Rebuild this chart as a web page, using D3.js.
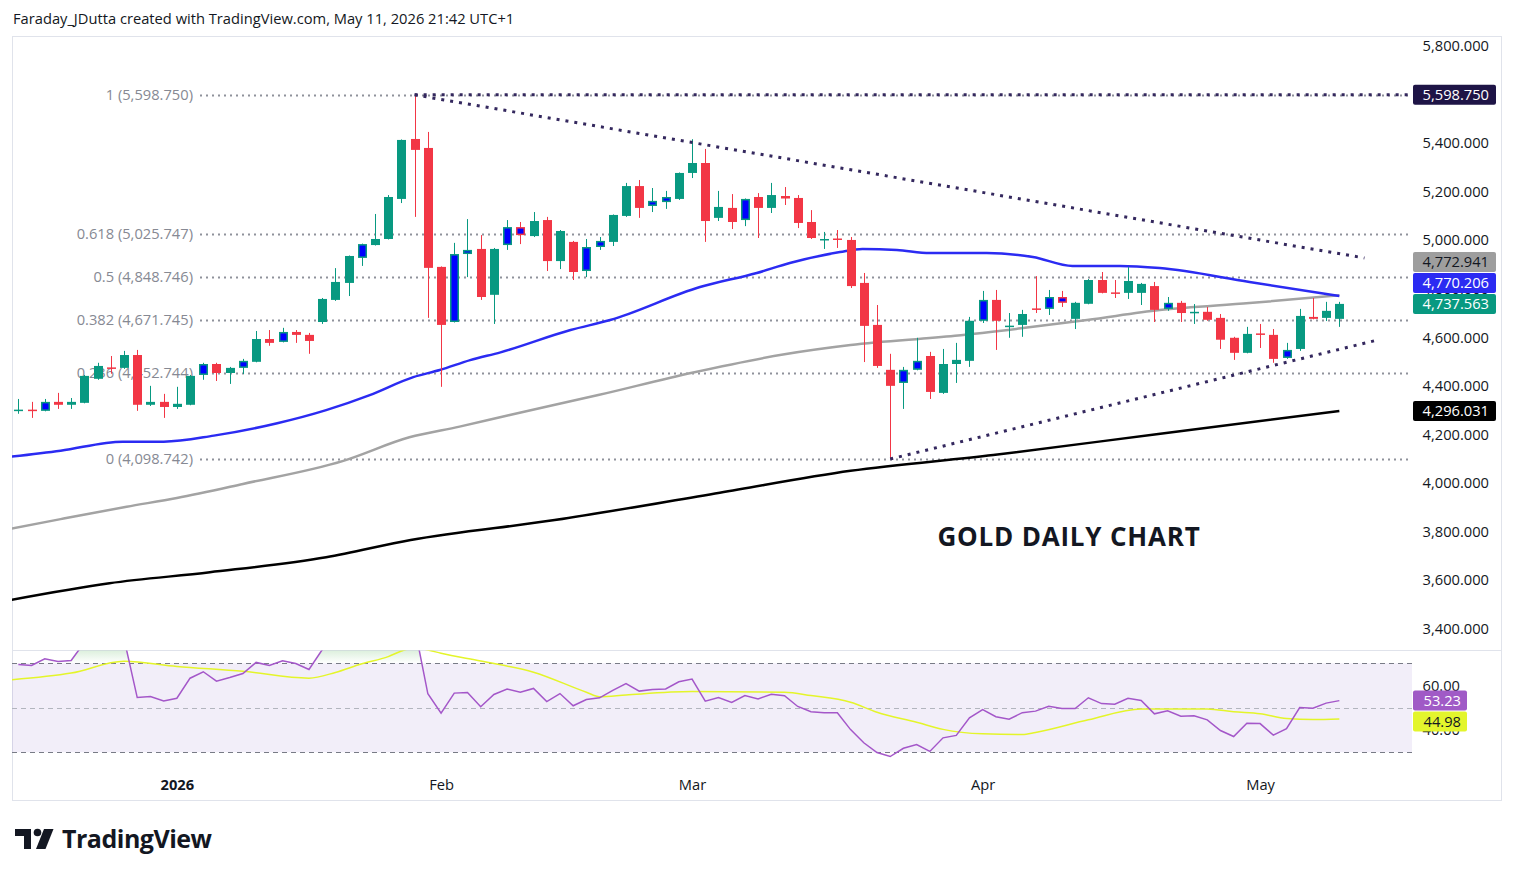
<!DOCTYPE html>
<html>
<head>
<meta charset="utf-8">
<script src="https://cdn.jsdelivr.net/npm/d3@7"></script>
<style>
  body { margin: 0; background: #fff; }
</style>
</head>
<body>
<svg id="chart" width="1515" height="877" font-family="'Open Sans', sans-serif"></svg>
<script>
// ---- data (bar index 0 = mid Dec 2025, 100 = May 11 2026) ----
var barOpen  = [4300,4302,4297,4334,4322,4330,4429,4476,4474,4527,4322,4334,4313,4322,4445,4490,4453,4474,4499,4593,
                4581,4622,4610,4663,4754,4824,4927,4980,5005,5170,5417,5380,4890,4663,4943,4964,4775,4980,5054,5017,
                5083,4914,4993,4873,4972,4993,5100,5223,5141,5157,5170,5277,5318,5092,5133,5083,5178,5133,5182,5174,
                5075,5003,5007,5001,4824,4651,4466,4412,4466,4523,4371,4490,4503,4668,4754,4645,4651,4719,4717,4766,
                4676,4738,4836,4785,4783,4783,4811,4717,4742,4703,4705,4680,4598,4536,4616,4610,4515,4552,4684,4680,4676];
var barHigh  = [4346,4334,4346,4371,4350,4445,4495,4523,4544,4548,4400,4367,4396,4445,4495,4495,4478,4511,4626,4630,
                4639,4630,4618,4762,4885,4937,4986,5108,5186,5415,5598.75,5446,4892,4989,5087,5021,4968,5083,5075,5116,
                5096,5042,4997,5005,5013,5106,5236,5248,5215,5203,5279,5416,5376,5203,5190,5172,5194,5236,5219,5186,
                5124,5034,5042,5013,4865,4733,4532,4478,4598,4540,4552,4577,4684,4791,4795,4700,4713,4852,4795,4791,
                4746,4840,4869,4836,4889,4824,4828,4766,4750,4737,4725,4696,4602,4643,4655,4634,4577,4717,4762,4746,4746];
var barLow   = [4285,4268,4295,4305,4305,4328,4425,4450,4470,4297,4317,4268,4305,4320,4425,4420,4408,4449,4497,4565,
                4579,4577,4532,4655,4750,4770,4894,4978,5003,5153,5096,4680,4396,4661,4848,4754,4655,4960,4984,5013,
                4873,4881,4836,4848,4960,4976,5096,5092,5116,5129,5166,5256,4993,5079,5046,5058,5009,5112,5145,5050,
                5005,4964,4968,4803,4498,4474,4098.742,4305,4464,4346,4367,4412,4478,4659,4548,4598,4602,4700,4692,4725,
                4634,4736,4781,4762,4758,4733,4663,4709,4663,4655,4668,4552,4507,4534,4556,4495,4511,4544,4674,4667,4643];
var barClose = [4302,4300,4334,4322,4334,4441,4482,4474,4527,4322,4334,4313,4326,4441,4490,4453,4474,4503,4593,4577,
                4622,4610,4585,4758,4828,4935,4984,5005,5178,5413,5372,4886,4651,4943,4960,4766,4964,5054,5021,5079,
                4914,5038,4869,4972,4997,5104,5223,5133,5162,5178,5277,5318,5079,5137,5075,5170,5133,5186,5174,5071,
                5009,5005,5005,4811,4647,4482,4400,4466,4503,4375,4490,4507,4668,4754,4668,4648,4696,4717,4766,4742,
                4742,4836,4783,4783,4832,4820,4713,4742,4700,4705,4672,4590,4536,4614,4614,4511,4548,4688,4676,4709,4737.563];
// bars painted blue by the chart's candle-colouring study
var blueBars = [2,4,14,17,20,21,26,33,34,37,38,43,44,48,49,55,58,67,68,73,78,79,87,96];

// moving averages, read at bar indexes
var blueMaIdx  = [-0.6,3.2,7.9,11,14.8,19.6,23.3,26.6,29.9,31.9,34.2,36.5,41.8,44.8,51.6,55.9,58.4,62.2,63.9,66.5,69,73.3,76.8,79.8,83.4,86.4,93.2,100];
var blueMaVal  = [4108,4133,4170,4170,4195,4246,4300,4362,4436,4465,4506,4538,4630,4671,4807,4865,4906,4951,4964,4960,4947,4947,4931,4894,4894,4885,4828,4770.206];
var greyMaIdx  = [-0.6,3.2,8.2,12,17,24.6,29.6,33.4,37.2,43.9,51,58,63,70.9,75.9,80.9,86.4,93.2,100];
var greyMaVal  = [3811,3851,3902,3938,3996,4091,4188,4232,4280,4362,4454,4530,4568,4606,4637,4671,4712,4741,4772.941];
var blackMaIdx = [-0.6,6.9,14.5,23.3,29.7,40.6,53.1,63,73.8,86.3,100];
var blackMaVal = [3518,3587,3632,3694,3765,3847,3960,4050,4115,4202,4296.031];

// RSI and its moving average
var rsiValues = [69.5,69.0,72.0,70.8,71.3,79.4,82,80,81.1,54.6,55.1,53.1,54.3,63.3,66.2,62.0,63.6,65.4,70.4,69.0,
                 71.1,69.9,67.2,76.1,80,84,86,87,90,92,86.3,56.3,47.6,56.6,56.9,50.5,56.0,58.4,57.0,58.7,
                 52.8,56.4,50.9,53.7,54.5,57.8,60.9,57.5,58.2,58.5,61.7,62.9,53.0,54.6,52.4,55.5,54.0,56.1,55.4,50.6,
                 48.2,47.8,47.8,40.2,34.3,29.9,28.1,31.8,33.5,30.4,36.5,37.6,45.5,49.2,46.0,44.9,47.8,48.5,50.7,49.7,
                 49.7,54.5,51.9,51.6,54.3,53.3,47.3,48.7,46.2,46.4,44.6,39.8,37.1,43.1,42.9,37.7,40.6,50.1,49.8,52.1,53.23];
var rsiMaIdx = [-0.6,4,8,12,17,22,24,26,28,29,30,31,32,35,39,43,44,46,51,58,60,63,65,68,70,73,76,77,81,85,90,92,94,96,98,100];
var rsiMaVal = [62.6,65.6,70.9,68.6,66.4,63.3,65.9,69.8,73.0,75.5,77,76,74.5,71.0,66.0,57.0,55.0,55.8,57.3,57.0,55.5,52.5,48.0,43.5,40.3,38.3,38.0,38.9,44.6,49.5,49.5,48.2,47.3,45.2,44.7,44.98];

// fibonacci retracement
var fibRatios = ["1","0.618","0.5","0.382","0.236","0"];
var fibPrices = [5598.750,5025.747,4848.746,4671.745,4452.744,4098.742];

// trend lines
var upperTrendIdx = [30,101.9], upperTrendPrice = [5598.75,4926.7];
var lowerTrendIdx = [66,102.9], lowerTrendPrice = [4098.742,4588.9];
var topLineIdx = [30,105.5], topLinePrice = [5598.75,5598.75];

// axes
var priceTicks = [3400,3600,3800,4000,4200,4400,4600,4800,5000,5200,5400,5600,5800];
var rsiTicks = [40,60];
var monthIdx = [12,32,51,73,94];
var monthLabels = ["2026","Feb","Mar","Apr","May"];

// ---- drawing ----
var svg = d3.select("#chart");
var upCol = "#089981", downCol = "#F23645", blueCol = "#0000FF";
var txtFont = "'Open Sans', sans-serif";
var fs = 14.7;
var fmt3 = d3.format(",.3f"), fmt2 = d3.format(".2f");

var x = d3.scaleLinear().domain([-0.48, 105.5]).range([12, 1412]);
var y = d3.scaleLinear().domain([3400, 5800]).range([628.6, 46]);
var ry = d3.scaleLinear().domain([30, 70]).range([752.3, 663.3]);

var defs = svg.append("defs");
defs.append("clipPath").attr("id", "mainClip").append("rect")
  .attr("x", 12).attr("y", 37).attr("width", 1400).attr("height", 613);
defs.append("clipPath").attr("id", "rsiClip").append("rect")
  .attr("x", 12).attr("y", 650.5).attr("width", 1400).attr("height", 119);
defs.append("clipPath").attr("id", "obClip").append("rect")
  .attr("x", 12).attr("y", 650).attr("width", 1400).attr("height", ry(70) - 650);
defs.append("clipPath").attr("id", "osClip").append("rect")
  .attr("x", 12).attr("y", ry(30)).attr("width", 1400).attr("height", 40);

var gOb = defs.append("linearGradient").attr("id", "obGrad").attr("gradientUnits", "userSpaceOnUse")
  .attr("x1", 0).attr("x2", 0).attr("y1", ry(100)).attr("y2", ry(70));
gOb.append("stop").attr("offset", 0).attr("stop-color", "#4CAF50").attr("stop-opacity", 1);
gOb.append("stop").attr("offset", 1).attr("stop-color", "#4CAF50").attr("stop-opacity", 0);
var gOs = defs.append("linearGradient").attr("id", "osGrad").attr("gradientUnits", "userSpaceOnUse")
  .attr("x1", 0).attr("x2", 0).attr("y1", ry(30)).attr("y2", ry(0));
gOs.append("stop").attr("offset", 0).attr("stop-color", "#F23645").attr("stop-opacity", 0);
gOs.append("stop").attr("offset", 1).attr("stop-color", "#F23645").attr("stop-opacity", 1);

// header
svg.append("text").attr("x", 13).attr("y", 24).attr("font-size", fs).attr("fill", "#131722")
  .text("Faraday_JDutta created with TradingView.com, May 11, 2026 21:42 UTC+1");

// frame
svg.append("rect").attr("x", 12.5).attr("y", 36.5).attr("width", 1489).attr("height", 764)
  .attr("fill", "none").attr("stroke", "#e0e3eb");
svg.append("line").attr("x1", 12.5).attr("x2", 1501.5).attr("y1", 650.5).attr("y2", 650.5)
  .attr("stroke", "#e0e3eb");

var main = svg.append("g").attr("clip-path", "url(#mainClip)");

// fibonacci levels
fibPrices.forEach(function(p, i) {
  main.append("line").attr("x1", 200).attr("x2", 1412)
    .attr("y1", Math.round(y(p)) + 0.5).attr("y2", Math.round(y(p)) + 0.5)
    .attr("stroke", "#8f929b").attr("stroke-width", 2).attr("stroke-dasharray", "2,4");
  main.append("text").attr("x", 193).attr("y", y(p) + 5).attr("text-anchor", "end")
    .attr("font-size", fs).attr("fill", "#868993")
    .text(fibRatios[i] + " (" + fmt3(p) + ")");
});

// moving averages
var maLine = d3.line().x(function(d) { return x(d[0]); }).y(function(d) { return y(d[1]); })
  .curve(d3.curveMonotoneX);
[[blackMaIdx, blackMaVal, "#000000"], [greyMaIdx, greyMaVal, "#a3a3a3"], [blueMaIdx, blueMaVal, "#2b2bf2"]]
  .forEach(function(m) {
    main.append("path").datum(d3.zip(m[0], m[1])).attr("d", maLine)
      .attr("fill", "none").attr("stroke", m[2]).attr("stroke-width", 2.5);
  });

// candles
var bw = 9;
var candles = main.append("g").selectAll("g").data(d3.range(barOpen.length)).join("g");
candles.each(function(i) {
  var g = d3.select(this);
  var o = barOpen[i], c = barClose[i];
  var col = c >= o ? upCol : downCol;
  var cx = Math.round(x(i)) + 0.5;
  g.append("line").attr("x1", cx).attr("x2", cx).attr("y1", y(barHigh[i])).attr("y2", y(barLow[i]))
    .attr("stroke", col).attr("stroke-width", 1);
  var top = y(Math.max(o, c)), h = Math.max(1.5, Math.abs(y(o) - y(c)));
  if (blueBars.indexOf(i) >= 0) {
    g.append("rect").attr("x", cx - bw / 2 + 0.75).attr("y", top + 0.75)
      .attr("width", bw - 1.5).attr("height", Math.max(1, h - 1.5))
      .attr("fill", blueCol).attr("stroke", col).attr("stroke-width", 1.5);
  } else {
    g.append("rect").attr("x", cx - bw / 2).attr("y", top).attr("width", bw).attr("height", h)
      .attr("fill", col);
  }
});

// trend lines
var trendLine = d3.line().x(function(d) { return x(d[0]); }).y(function(d) { return y(d[1]); });
[[topLineIdx, topLinePrice], [upperTrendIdx, upperTrendPrice], [lowerTrendIdx, lowerTrendPrice]]
  .forEach(function(t) {
    main.append("path").datum(d3.zip(t[0], t[1])).attr("d", trendLine)
      .attr("fill", "none").attr("stroke", "#34285e").attr("stroke-width", 3)
      .attr("stroke-dasharray", "3,6");
  });

// title
svg.append("text").attr("x", 1069).attr("y", 546).attr("text-anchor", "middle")
  .attr("font-weight", 700).attr("font-size", 26).attr("letter-spacing", 0.8)
  .attr("fill", "#131722").text("GOLD DAILY CHART");

// price axis
var pAxis = svg.append("g").attr("transform", "translate(1412,0)")
  .call(d3.axisRight(y).tickValues(priceTicks).tickFormat(fmt3).tickSize(0));
pAxis.select(".domain").remove();
pAxis.selectAll("text").attr("x", 77).attr("text-anchor", "end")
  .attr("font-size", fs).attr("fill", "#131722").attr("font-family", txtFont);

// price labels
function tag(yy, txt, bg, fg, w, right) {
  svg.append("rect").attr("x", 1413).attr("y", yy - 10).attr("width", w).attr("height", 20)
    .attr("rx", 2).attr("fill", bg);
  svg.append("text").attr("x", right).attr("y", yy + 5).attr("text-anchor", "end")
    .attr("font-size", fs).attr("fill", fg).text(txt);
}
var yGreen = y(barClose[barClose.length - 1]);
var yBlue = Math.min(y(blueMaVal[blueMaVal.length - 1]), yGreen - 21);
var yGrey = Math.min(y(greyMaVal[greyMaVal.length - 1]), yBlue - 21);
tag(y(fibPrices[0]), fmt3(fibPrices[0]), "#1e1446", "#ffffff", 83, 1489);
tag(yGrey, fmt3(greyMaVal[greyMaVal.length - 1]), "#9e9e9e", "#131722", 83, 1489);
tag(yBlue, fmt3(blueMaVal[blueMaVal.length - 1]), "#2b2bf2", "#ffffff", 83, 1489);
tag(yGreen, fmt3(barClose[barClose.length - 1]), upCol, "#ffffff", 83, 1489);
tag(y(blackMaVal[blackMaVal.length - 1]), fmt3(blackMaVal[blackMaVal.length - 1]), "#000000", "#ffffff", 83, 1489);

// ---- RSI pane ----
var rsi = svg.append("g").attr("clip-path", "url(#rsiClip)");
rsi.append("rect").attr("x", 12).attr("y", ry(70)).attr("width", 1400).attr("height", ry(30) - ry(70))
  .attr("fill", "#7E57C2").attr("fill-opacity", 0.1);

var rsiPts = rsiValues.map(function(v, i) { return [i, v]; });
var rsiArea = d3.area().x(function(d) { return x(d[0]); }).y1(function(d) { return ry(d[1]); });
rsi.append("path").datum(rsiPts).attr("clip-path", "url(#obClip)")
  .attr("d", rsiArea.y0(ry(70))).attr("fill", "url(#obGrad)");
rsi.append("path").datum(rsiPts).attr("clip-path", "url(#osClip)")
  .attr("d", rsiArea.y0(ry(30))).attr("fill", "url(#osGrad)");

[[70, "#787b86"], [50, "#b2b5be"], [30, "#787b86"]].forEach(function(l) {
  rsi.append("line").attr("x1", 12).attr("x2", 1412)
    .attr("y1", Math.round(ry(l[0])) + 0.5).attr("y2", Math.round(ry(l[0])) + 0.5)
    .attr("stroke", l[1]).attr("stroke-dasharray", "5,4");
});

var rLine = d3.line().x(function(d) { return x(d[0]); }).y(function(d) { return ry(d[1]); });
rsi.append("path").datum(d3.zip(rsiMaIdx, rsiMaVal)).attr("d", rLine.curve(d3.curveMonotoneX))
  .attr("fill", "none").attr("stroke", "#e4f52a").attr("stroke-width", 1.5);
rsi.append("path").datum(rsiPts).attr("d", rLine.curve(d3.curveLinear))
  .attr("fill", "none").attr("stroke", "#a457c9").attr("stroke-width", 1.5);

var rAxis = svg.append("g").attr("transform", "translate(1412,0)")
  .call(d3.axisRight(ry).tickValues(rsiTicks).tickFormat(fmt2).tickSize(0));
rAxis.select(".domain").remove();
rAxis.selectAll("text").attr("x", 48).attr("text-anchor", "end")
  .attr("font-size", fs).attr("fill", "#131722").attr("font-family", txtFont);

var yRsi = ry(rsiValues[rsiValues.length - 1]);
var yRsiMa = Math.max(ry(rsiMaVal[rsiMaVal.length - 1]), yRsi + 21);
tag(yRsi, fmt2(rsiValues[rsiValues.length - 1]), "#a05ac6", "#ffffff", 54, 1461);
tag(yRsiMa, fmt2(rsiMaVal[rsiMaVal.length - 1]), "#e3f52c", "#131722", 54, 1461);

// time axis
var tAxis = svg.append("g").attr("transform", "translate(0,772)")
  .call(d3.axisBottom(x).tickValues(monthIdx).tickFormat(function(d, i) { return monthLabels[i]; }).tickSize(0));
tAxis.select(".domain").remove();
tAxis.selectAll("text").attr("dy", 0).attr("y", 18).attr("font-size", fs).attr("fill", "#131722")
  .attr("font-family", txtFont)
  .attr("font-weight", function(d, i) { return i === 0 ? 700 : 400; });

// TradingView logo
var logo = svg.append("g").attr("fill", "#131722");
logo.append("path").attr("d", "M15 829 H31 V849 H24 V836 H15 Z");
logo.append("circle").attr("cx", 37.5).attr("cy", 832.5).attr("r", 3.8);
logo.append("path").attr("d", "M44 829 H53.5 L45.5 849 H36 Z");
logo.append("text").attr("x", 62).attr("y", 848).attr("font-size", 25).attr("font-weight", 700)
  .attr("letter-spacing", -0.5).text("TradingView");
</script>
</body>
</html>
